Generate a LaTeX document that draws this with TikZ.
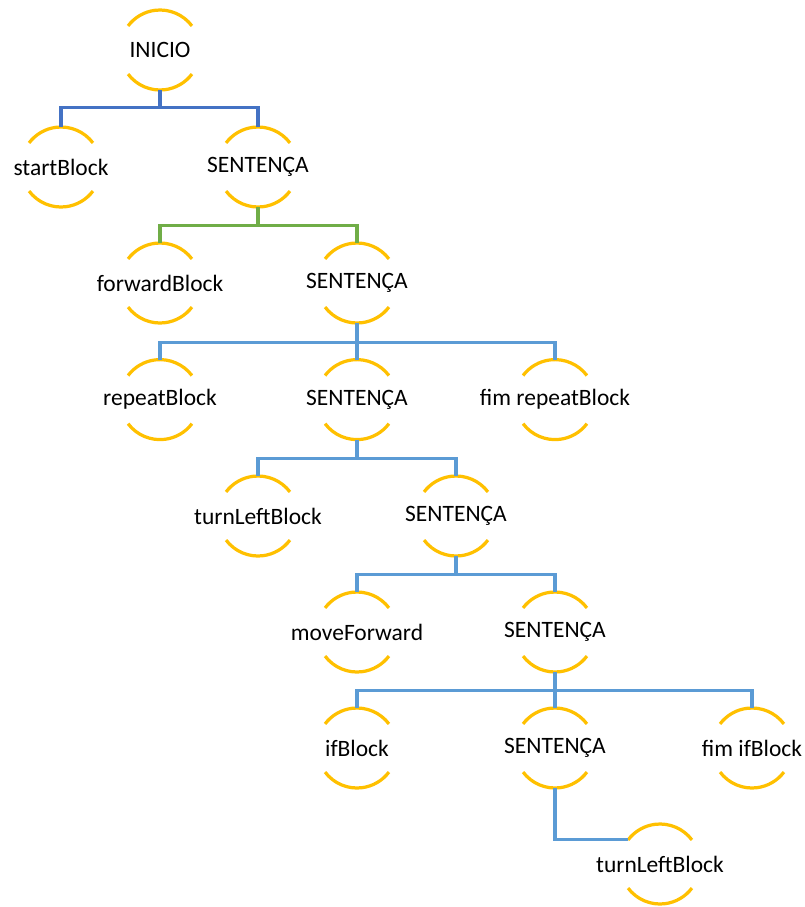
\documentclass[tikz,border=0pt]{standalone}
\usepackage{fontspec}
\setmainfont{Carlito}
\usetikzlibrary{calc}
\definecolor{azulA}{HTML}{4472C4}
\definecolor{azulB}{HTML}{5B9BD5}
\definecolor{verde}{HTML}{70AD47}
\definecolor{amarelo}{HTML}{FFC000}

\tikzset{
  tok/.style={circle, minimum size=2cm, inner sep=0pt, outer sep=0pt,
    font=\fontsize{16.7}{20}\selectfont},
  brace/.style={draw=amarelo, line width=2.3pt},
  wire/.style={draw=#1, line width=2.2pt},
}
\newcommand{\tk}[1]{\makebox[0pt]{#1}}

\begin{document}
\begin{tikzpicture}
  \useasboundingbox (0,0) rectangle (20.125,-22.675);

  % nós
  \node[tok] (inicio) at (4,-1.25) {\tk{INICIO}};
  \node[tok] (start) at (1.525,-4.175) {\tk{startBlock}};
  \node[tok] (s1) at (6.45,-4.175) {\tk{SENTENÇA}};
  \node[tok] (fwd) at (4,-7.075) {\tk{forwardBlock}};
  \node[tok] (s2) at (8.925,-7.075) {\tk{SENTENÇA}};
  \node[tok] (rep) at (4,-9.99) {\tk{repeatBlock}};
  \node[tok] (s3) at (8.925,-9.99) {\tk{SENTENÇA}};
  \node[tok] (fimrep) at (13.875,-9.99) {\tk{fim repeatBlock}};
  \node[tok] (left1) at (6.45,-12.9) {\tk{turnLeftBlock}};
  \node[tok] (s4) at (11.4,-12.9) {\tk{SENTENÇA}};
  \node[tok] (move) at (8.925,-15.8) {\tk{moveForward}};
  \node[tok] (s5) at (13.875,-15.8) {\tk{SENTENÇA}};
  \node[tok] (if) at (8.925,-18.7) {\tk{ifBlock}};
  \node[tok] (s6) at (13.875,-18.7) {\tk{SENTENÇA}};
  \node[tok] (fimif) at (18.8,-18.7) {\tk{fim ifBlock}};
  \node[tok] (left2) at (16.5,-21.6) {\tk{turnLeftBlock}};

  % arcos amarelos
  \foreach \n in {inicio,start,s1,fwd,s2,rep,s3,fimrep,left1,s4,move,s5,if,s6,fimif,left2} {
    \draw[brace] (\n.37) arc[start angle=37, end angle=143, radius=1cm];
    \draw[brace] (\n.-143) arc[start angle=-143, end angle=-37, radius=1cm];
  }

  % ligações
  \draw[wire=azulA] (inicio.south) -- ++(0,-0.44) -| (start.north);
  \draw[wire=azulA] (inicio.south) -- ++(0,-0.44) -| (s1.north);

  \draw[wire=verde] (s1.south) -- ++(0,-0.47) -| (fwd.north);
  \draw[wire=verde] (s1.south) -- ++(0,-0.47) -| (s2.north);

  \draw[wire=azulB] (s2.south) -- ++(0,-0.48) -| (rep.north);
  \draw[wire=azulB] (s2.south) -- ++(0,-0.48) -| (s3.north);
  \draw[wire=azulB] (s2.south) -- ++(0,-0.48) -| (fimrep.north);

  \draw[wire=azulB] (s3.south) -- ++(0,-0.47) -| (left1.north);
  \draw[wire=azulB] (s3.south) -- ++(0,-0.47) -| (s4.north);

  \draw[wire=azulB] (s4.south) -- ++(0,-0.47) -| (move.north);
  \draw[wire=azulB] (s4.south) -- ++(0,-0.47) -| (s5.north);

  \draw[wire=azulB] (s5.south) -- ++(0,-0.47) -| (if.north);
  \draw[wire=azulB] (s5.south) -- ++(0,-0.47) -| (s6.north);
  \draw[wire=azulB] (s5.south) -- ++(0,-0.47) -| (fimif.north);

  \draw[wire=azulB] (s6.south) |- (left2.143);
\end{tikzpicture}
\end{document}
